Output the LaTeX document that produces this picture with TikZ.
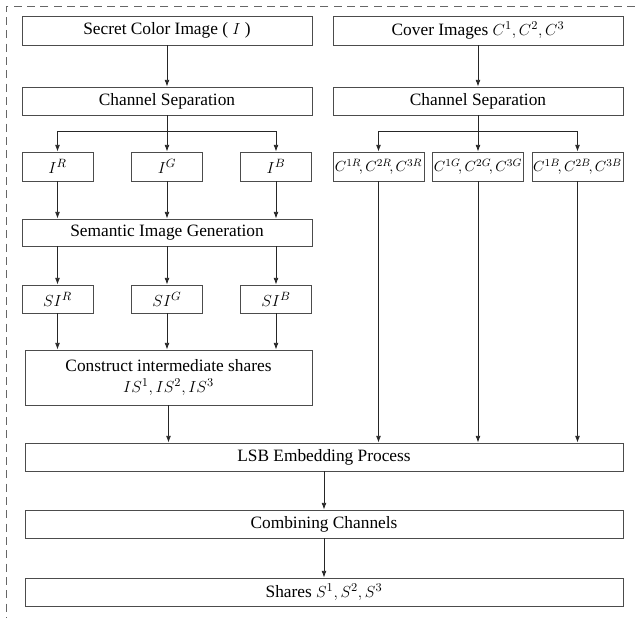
\documentclass[tikz,border=0pt]{standalone}
\usepackage{fontspec}
\setmainfont{Liberation Serif}
\usepackage{tikz}
\usetikzlibrary{arrows.meta, positioning, calc}

\def\u{0.75pt}

\begin{document}
\begin{tikzpicture}[
  x=\u, y=-\u,
  box/.style  = {rectangle, draw=black!70, line width=0.6pt, inner sep=0,
                 minimum height=28*\u, font=\fontsize{13}{15}\selectfont},
  wide/.style = {box, minimum width=290*\u},
  full/.style = {box, minimum width=598*\u},
  chan/.style = {box, minimum width=71*\u, minimum height=29*\u},
  cchan/.style= {box, minimum width=91*\u, minimum height=29*\u,
                 font=\fontsize{11}{12}\selectfont},
  flow/.style = {draw=black!85, line width=0.6pt,
                 -{Latex[length=5pt,width=3.6pt]}},
  link/.style = {draw=black!85, line width=0.6pt},
]
\useasboundingbox (0,0) rectangle (635,618);
% ── frame ──
\draw[black!60, line width=0.6pt, dash pattern=on 6pt off 4pt]
  (635,6) -- (6,6) -- (6,618);
% ── left column ──
\node[wide, minimum height=29*\u] (secret) at (167,30.5) {Secret Color Image ( $I$ )};
\node[wide] (sepL) at (167,101) {Channel Separation};
\foreach \c/\x in {R/57.5, G/167, B/276}
  \node[chan] (I\c) at (\x,166.5) {$I^{\c}$};
\node[wide, minimum height=27*\u] (sem) at (167,232.5) {Semantic Image Generation};
\foreach \c/\x in {R/57.5, G/167, B/276}
  \node[chan, minimum height=28*\u] (SI\c) at (\x,299) {$SI^{\c}$};
\node[box, minimum width=287*\u, minimum height=55*\u, align=center,
      font=\fontsize{13}{16}\selectfont] (cons) at (168.5,377.5)
  {Construct intermediate shares\\$IS^1,IS^2,IS^3$};
% ── right column ──
\node[wide, minimum height=29*\u] (cover) at (478,30.5) {Cover Images $C^1,C^2,C^3$};
\node[wide] (sepR) at (478,101) {Channel Separation};
\foreach \c/\x in {R/378.5, G/478, B/577.5}
  \node[cchan] (C\c) at (\x,166.5) {$C^{1\c}\!,C^{2\c}\!,C^{3\c}$};
% ── bottom ──
\node[full] (lsb) at (324,457) {LSB Embedding Process};
\node[full] (comb) at (324,524) {Combining Channels};
\node[full] (shares) at (324,592) {Shares $S^1,S^2,S^3$};
% ── connectors ──
\coordinate (bL) at (167,131);
\coordinate (bR) at (478,131);
\draw[flow] (secret) -- (sepL);
\draw[flow] (cover) -- (sepR);
\draw[link] (sepL) -- (bL);
\draw[link] (sepR) -- (bR);
\foreach \c in {R,G,B} {
  \draw[flow] (bL) -| (I\c.north);
  \draw[flow] (bR) -| (C\c.north);
  \draw[flow] (I\c) -- (I\c |- sem.north);
  \draw[flow] (SI\c |- sem.south) -- (SI\c);
  \draw[flow] (SI\c) -- (SI\c |- cons.north);
  \draw[flow] (C\c) -- (C\c |- lsb.north);
}
\draw[flow] (cons) -- (cons |- lsb.north);
\draw[flow] (lsb) -- (comb);
\draw[flow] (comb) -- (shares);
\end{tikzpicture}
\end{document}
